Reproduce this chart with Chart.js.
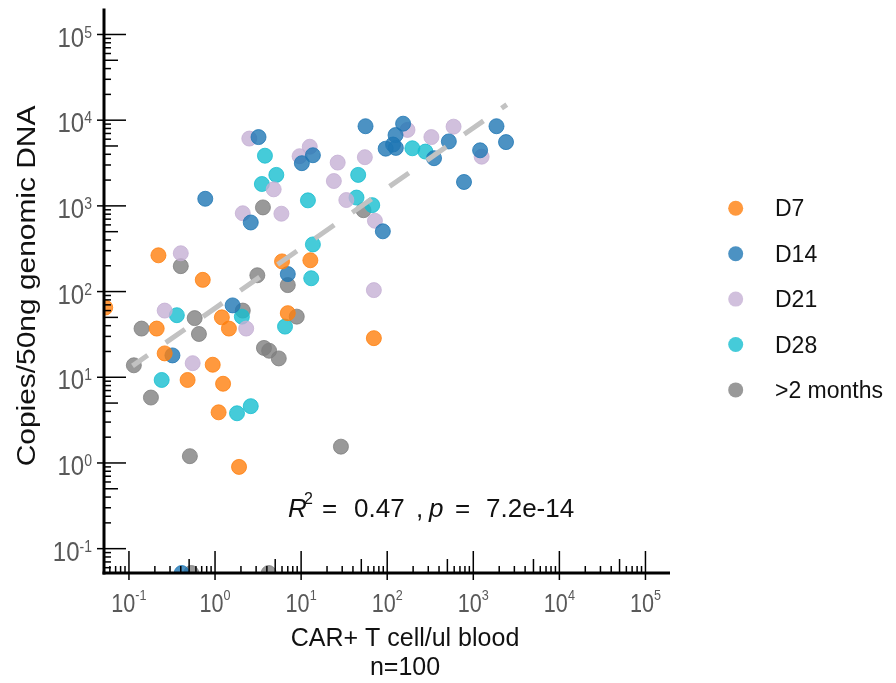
<!DOCTYPE html>
<html>
<head>
<meta charset="utf-8">
<script src="https://cdn.jsdelivr.net/npm/chart.js@4.4.1/dist/chart.umd.min.js"></script>
<style>
  html, body { margin: 0; padding: 0; background: #fff; }
  #wrap { width: 896px; height: 683px; }
</style>
</head>
<body>
<div id="wrap"><canvas id="grafico" width="896" height="683"></canvas></div>
<script>
// ========================
// Dados
// ========================
const grupos = ["D7", "D14", "D21", "D28", ">2 months"];
const cores = ["rgba(255,127,14,0.8)", "rgba(31,119,180,0.8)", "rgba(197,176,213,0.8)", "rgba(23,190,207,0.8)", "rgba(127,127,127,0.8)"];

const d7X = [0.053, 0.22, 0.72, 6.0, 1.2, 1.45, 0.21, 7.0, 0.26, 0.94, 0.48, 1.24, 1.1, 1.9, 12.8, 70];
const d7Y = [65, 265, 137, 225, 50, 37, 37, 56, 19, 14, 9.3, 8.4, 3.9, 0.9, 232, 28.6];

const d14X = [3.2, 0.77, 2.6, 7.0, 1.6, 0.32, 0.41, 56, 153, 125, 117, 96, 126, 13.7, 10.2, 350, 520, 1860, 2400, 1200, 780, 89];
const d14Y = [6350, 1210, 640, 160, 69, 18, 0.052, 8500, 9100, 6700, 5200, 4650, 4750, 3900, 3150, 3600, 5650, 8500, 5550, 4450, 1900, 505];

const d21X = [2.5, 4.8, 2.1, 5.9, 0.40, 0.26, 2.3, 0.55, 172, 12.6, 9.6, 26.6, 55, 326, 590, 1250, 24, 33.5, 72, 70];
const d21Y = [6100, 1560, 820, 810, 280, 60, 37, 14.6, 7700, 4900, 3800, 3200, 3700, 6350, 8400, 3750, 1950, 1170, 670, 104];

const d28X = [3.8, 5.15, 3.5, 0.36, 2.05, 6.5, 0.24, 1.8, 2.6, 196, 278, 46, 44, 67, 12, 13.7, 13.1];
const d28Y = [3850, 2300, 1800, 53, 51, 39, 9.3, 3.8, 4.6, 4700, 4300, 2300, 1250, 1020, 1160, 355, 143];

const mesesX = [3.6, 0.40, 3.1, 7.0, 0.58, 2.1, 0.14, 0.65, 8.9, 0.114, 3.7, 4.25, 5.5, 0.18, 0.51, 0.53, 4.2, 53, 29];
const mesesY = [960, 198, 155, 119, 49, 60, 37, 32, 51, 13.8, 22, 20.4, 16.6, 5.8, 1.2, 0.052, 0.052, 890, 1.55];

// reta de regressão (log-log)
const ajusteX = [0.11, 2450];
const ajusteY = [13.6, 15200];

// eixos
const expoentes = [-1, 0, 1, 2, 3, 4, 5];
const limX = [0.0513, 192800];
const limY = [0.052, 201000];

const tituloX = "CAR+ T cell/ul blood";
const subtituloX = "n=100";
const tituloY = "Copies/50ng genomic DNA";

// ========================
// Helpers de desenho
// ========================
const fonte = "'Liberation Sans', Arial, sans-serif";

function texto(ctx, str, x, y, px, o) {
  o = o || {};
  ctx.save();
  ctx.translate(x, y);
  if (o.rot) ctx.rotate(o.rot);
  ctx.scale(o.sx || 1, o.sy || 1);
  ctx.font = (o.italic ? "italic " : "") + px + "px " + fonte;
  ctx.fillStyle = o.cor || "#111";
  ctx.textAlign = o.align || "left";
  ctx.textBaseline = "alphabetic";
  ctx.fillText(str, 0, 0);
  ctx.restore();
}

function largura(ctx, str, px) {
  ctx.save();
  ctx.font = px + "px " + fonte;
  const w = ctx.measureText(str).width;
  ctx.restore();
  return w;
}

function linha(ctx, x1, y1, x2, y2) {
  ctx.beginPath();
  ctx.moveTo(x1, y1);
  ctx.lineTo(x2, y2);
  ctx.stroke();
}

const pluginEixos = {
  id: "eixos",
  afterDraw(chart) {
    const ctx = chart.ctx;
    const a = chart.chartArea;
    const xs = chart.scales.x, ys = chart.scales.y;

    ctx.save();
    ctx.strokeStyle = "#000";
    ctx.lineWidth = 1.5;

    // ticks maiores e menores (para dentro)
    for (let e = -2; e <= 5; e++) {
      for (let m = 1; m <= 9; m++) {
        const v = m * Math.pow(10, e);
        if (v > 1e5) continue;
        const comp = m === 1 ? 22 : (m === 5 ? 14 : 7);
        if (v >= limY[0] && v <= limY[1]) {
          const py = ys.getPixelForValue(v);
          linha(ctx, m === 1 ? a.left - 7 : a.left, py, a.left + comp, py);
        }
        if (v >= limX[0] && v <= limX[1]) {
          const px = xs.getPixelForValue(v);
          linha(ctx, px, m === 1 ? a.bottom + 7 : a.bottom, px, a.bottom - comp);
        }
      }
    }

    // linhas dos eixos
    ctx.lineWidth = 3;
    linha(ctx, a.left, a.top, a.left, a.bottom + 1.5);
    linha(ctx, a.left - 1.5, a.bottom, a.right, a.bottom);
    ctx.restore();

    // rótulos dos ticks: 10^n
    const cinza = "#595959";
    expoentes.forEach(e => {
      const v = Math.pow(10, e);
      const sup = String(e);
      // eixo x
      const px = xs.getPixelForValue(v);
      const wb = largura(ctx, "10", 24) * 0.9;
      const ws = largura(ctx, sup, 14) * 0.9;
      const x0 = px - (wb + ws) / 2;
      texto(ctx, "10", x0, 612, 24, { sx: 0.9, sy: 1.1, cor: cinza });
      texto(ctx, sup, x0 + wb, 600, 14, { sx: 0.9, sy: 1.1, cor: cinza });
      // eixo y
      const py = ys.getPixelForValue(v);
      const wb2 = largura(ctx, "10", 24);
      const ws2 = largura(ctx, sup, 14);
      const x1 = 92 - wb2 - ws2;
      texto(ctx, "10", x1, py + 12.2, 24, { sy: 1.15, cor: cinza });
      texto(ctx, sup, x1 + wb2, py + 3.2, 14, { sy: 1.15, cor: cinza });
    });

    // títulos
    texto(ctx, tituloX, 405, 646, 25, { align: "center" });
    texto(ctx, subtituloX, 405, 675, 25, { align: "center" });
    texto(ctx, tituloY, 35, 286, 26, { align: "center", rot: -Math.PI / 2, sx: 1.15 });

    // anotação R^2 e p
    texto(ctx, "R", 288, 517, 26, { italic: true });
    texto(ctx, "2", 304, 504, 16);
    texto(ctx, "=", 322, 517, 26);
    texto(ctx, "0.47", 354, 517, 26);
    texto(ctx, ",", 416, 517, 26);
    texto(ctx, "p", 429, 517, 26, { italic: true });
    texto(ctx, "=", 455, 517, 26);
    texto(ctx, "7.2e-14", 486, 517, 26);

    // legenda
    grupos.forEach((g, i) => {
      const cy = 208.3 + i * 45.4;
      ctx.save();
      ctx.fillStyle = cores[i];
      ctx.beginPath();
      ctx.arc(735.7, cy, 7.5, 0, Math.PI * 2);
      ctx.fill();
      ctx.restore();
      texto(ctx, g, 775, cy + 8, 23);
    });
  }
};

// ========================
// Montagem dos datasets
// ========================
function pontos(xs, ys) {
  return xs.map((x, i) => ({ x: x, y: ys[i] }));
}

const series = [
  [d7X, d7Y], [d14X, d14Y], [d21X, d21Y], [d28X, d28Y], [mesesX, mesesY]
];

const datasets = series.map((s, i) => ({
  label: grupos[i],
  data: pontos(s[0], s[1]),
  backgroundColor: cores[i],
  borderColor: cores[i],
  borderWidth: 1,
  pointRadius: 7.5,
  clip: 0
}));

datasets.unshift({
  type: "line",
  label: "ajuste",
  data: pontos(ajusteX, ajusteY),
  borderColor: "#c2c2c2",
  borderWidth: 5,
  borderDash: [23.5, 22],
  borderDashOffset: 5,
  borderCapStyle: "butt",
  pointRadius: 0,
  fill: false,
  order: -1
});

new Chart(document.getElementById("grafico").getContext("2d"), {
  type: "scatter",
  data: { datasets: datasets },
  options: {
    responsive: false,
    animation: false,
    events: [],
    layout: { padding: { left: 104, right: 226, top: 7, bottom: 110 } },
    plugins: { legend: { display: false }, tooltip: { enabled: false } },
    scales: {
      x: {
        type: "logarithmic",
        min: limX[0], max: limX[1],
        grid: { display: false },
        border: { display: false },
        ticks: { display: false },
        afterFit: s => { s.height = 0; }
      },
      y: {
        type: "logarithmic",
        min: limY[0], max: limY[1],
        grid: { display: false },
        border: { display: false },
        ticks: { display: false },
        afterFit: s => { s.width = 0; }
      }
    }
  },
  plugins: [pluginEixos]
});
</script>
</body>
</html>
